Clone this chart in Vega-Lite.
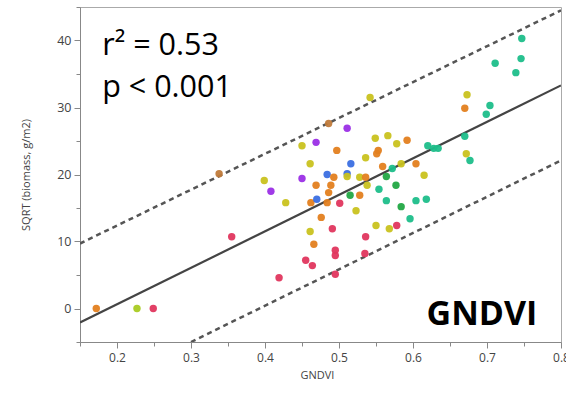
{
  "$schema": "https://vega.github.io/schema/vega-lite/v6.json",
  "width": 481,
  "height": 335,
  "autosize": {"type": "none"},
  "padding": {"left": 80, "top": 7, "right": 5, "bottom": 51},
  "background": "white",
  "config": {
    "view": {"stroke": "#aaaaaa", "strokeWidth": 1},
    "axis": {
      "grid": false,
      "domainColor": "#888888",
      "tickColor": "#888888",
      "labelColor": "#444444",
      "labelFont": "Open Sans",
      "labelFontSize": 12,
      "titleFont": "Open Sans",
      "titleFontWeight": "normal",
      "titleColor": "#444444",
      "titleFontSize": 11
    }
  },
  "datasets": {
    "pts": [
      {"gndvi": 0.172, "sqrt_biomass": 0.0, "group": "A"},
      {"gndvi": 0.227, "sqrt_biomass": 0.0, "group": "H"},
      {"gndvi": 0.249, "sqrt_biomass": 0.0, "group": "C"},
      {"gndvi": 0.338, "sqrt_biomass": 20.1, "group": "I"},
      {"gndvi": 0.355, "sqrt_biomass": 10.7, "group": "C"},
      {"gndvi": 0.399, "sqrt_biomass": 19.1, "group": "B"},
      {"gndvi": 0.408, "sqrt_biomass": 17.5, "group": "D"},
      {"gndvi": 0.419, "sqrt_biomass": 4.6, "group": "C"},
      {"gndvi": 0.428, "sqrt_biomass": 15.8, "group": "B"},
      {"gndvi": 0.45, "sqrt_biomass": 24.3, "group": "B"},
      {"gndvi": 0.469, "sqrt_biomass": 24.8, "group": "D"},
      {"gndvi": 0.486, "sqrt_biomass": 27.6, "group": "I"},
      {"gndvi": 0.511, "sqrt_biomass": 26.9, "group": "D"},
      {"gndvi": 0.542, "sqrt_biomass": 31.5, "group": "B"},
      {"gndvi": 0.497, "sqrt_biomass": 23.6, "group": "A"},
      {"gndvi": 0.549, "sqrt_biomass": 25.4, "group": "B"},
      {"gndvi": 0.566, "sqrt_biomass": 25.8, "group": "B"},
      {"gndvi": 0.578, "sqrt_biomass": 24.6, "group": "B"},
      {"gndvi": 0.592, "sqrt_biomass": 25.1, "group": "A"},
      {"gndvi": 0.553, "sqrt_biomass": 23.6, "group": "A"},
      {"gndvi": 0.551, "sqrt_biomass": 23.1, "group": "A"},
      {"gndvi": 0.536, "sqrt_biomass": 22.5, "group": "B"},
      {"gndvi": 0.461, "sqrt_biomass": 21.6, "group": "B"},
      {"gndvi": 0.516, "sqrt_biomass": 21.6, "group": "E"},
      {"gndvi": 0.484, "sqrt_biomass": 20.0, "group": "E"},
      {"gndvi": 0.511, "sqrt_biomass": 20.1, "group": "E"},
      {"gndvi": 0.511, "sqrt_biomass": 19.7, "group": "B"},
      {"gndvi": 0.559, "sqrt_biomass": 21.2, "group": "A"},
      {"gndvi": 0.572, "sqrt_biomass": 20.9, "group": "G"},
      {"gndvi": 0.584, "sqrt_biomass": 21.6, "group": "B"},
      {"gndvi": 0.604, "sqrt_biomass": 21.6, "group": "A"},
      {"gndvi": 0.45, "sqrt_biomass": 19.4, "group": "D"},
      {"gndvi": 0.493, "sqrt_biomass": 19.6, "group": "A"},
      {"gndvi": 0.528, "sqrt_biomass": 19.6, "group": "B"},
      {"gndvi": 0.564, "sqrt_biomass": 19.7, "group": "F"},
      {"gndvi": 0.469, "sqrt_biomass": 18.4, "group": "A"},
      {"gndvi": 0.489, "sqrt_biomass": 18.4, "group": "A"},
      {"gndvi": 0.486, "sqrt_biomass": 17.3, "group": "A"},
      {"gndvi": 0.484, "sqrt_biomass": 15.8, "group": "A"},
      {"gndvi": 0.462, "sqrt_biomass": 15.8, "group": "A"},
      {"gndvi": 0.47, "sqrt_biomass": 16.3, "group": "E"},
      {"gndvi": 0.536, "sqrt_biomass": 19.6, "group": "A"},
      {"gndvi": 0.538, "sqrt_biomass": 18.4, "group": "B"},
      {"gndvi": 0.515, "sqrt_biomass": 16.9, "group": "F"},
      {"gndvi": 0.528, "sqrt_biomass": 16.9, "group": "A"},
      {"gndvi": 0.501, "sqrt_biomass": 15.7, "group": "C"},
      {"gndvi": 0.554, "sqrt_biomass": 17.8, "group": "G"},
      {"gndvi": 0.577, "sqrt_biomass": 18.4, "group": "F"},
      {"gndvi": 0.564, "sqrt_biomass": 16.1, "group": "G"},
      {"gndvi": 0.584, "sqrt_biomass": 15.2, "group": "F"},
      {"gndvi": 0.604, "sqrt_biomass": 16.1, "group": "G"},
      {"gndvi": 0.618, "sqrt_biomass": 16.3, "group": "G"},
      {"gndvi": 0.523, "sqrt_biomass": 14.6, "group": "B"},
      {"gndvi": 0.476, "sqrt_biomass": 13.6, "group": "A"},
      {"gndvi": 0.596, "sqrt_biomass": 13.4, "group": "G"},
      {"gndvi": 0.491, "sqrt_biomass": 11.9, "group": "C"},
      {"gndvi": 0.55, "sqrt_biomass": 12.4, "group": "B"},
      {"gndvi": 0.568, "sqrt_biomass": 11.9, "group": "B"},
      {"gndvi": 0.578, "sqrt_biomass": 12.4, "group": "C"},
      {"gndvi": 0.461, "sqrt_biomass": 11.5, "group": "B"},
      {"gndvi": 0.536, "sqrt_biomass": 10.7, "group": "C"},
      {"gndvi": 0.466, "sqrt_biomass": 9.6, "group": "A"},
      {"gndvi": 0.495, "sqrt_biomass": 8.7, "group": "C"},
      {"gndvi": 0.495, "sqrt_biomass": 7.9, "group": "C"},
      {"gndvi": 0.535, "sqrt_biomass": 8.2, "group": "C"},
      {"gndvi": 0.455, "sqrt_biomass": 7.2, "group": "C"},
      {"gndvi": 0.464, "sqrt_biomass": 6.4, "group": "C"},
      {"gndvi": 0.495, "sqrt_biomass": 5.1, "group": "C"},
      {"gndvi": 0.62, "sqrt_biomass": 24.3, "group": "G"},
      {"gndvi": 0.628, "sqrt_biomass": 23.9, "group": "G"},
      {"gndvi": 0.634, "sqrt_biomass": 23.9, "group": "G"},
      {"gndvi": 0.67, "sqrt_biomass": 25.7, "group": "G"},
      {"gndvi": 0.672, "sqrt_biomass": 23.1, "group": "B"},
      {"gndvi": 0.677, "sqrt_biomass": 22.1, "group": "G"},
      {"gndvi": 0.67, "sqrt_biomass": 29.9, "group": "A"},
      {"gndvi": 0.673, "sqrt_biomass": 31.9, "group": "B"},
      {"gndvi": 0.699, "sqrt_biomass": 29.0, "group": "G"},
      {"gndvi": 0.704, "sqrt_biomass": 30.3, "group": "G"},
      {"gndvi": 0.711, "sqrt_biomass": 36.6, "group": "G"},
      {"gndvi": 0.739, "sqrt_biomass": 35.2, "group": "G"},
      {"gndvi": 0.746, "sqrt_biomass": 37.3, "group": "G"},
      {"gndvi": 0.747, "sqrt_biomass": 40.3, "group": "G"},
      {"gndvi": 0.615, "sqrt_biomass": 19.9, "group": "B"}
    ],
    "fits": [
      {"gndvi": 0.15, "sqrt_biomass": -2.1, "series": "fit"},
      {"gndvi": 0.8, "sqrt_biomass": 33.3, "series": "fit"},
      {"gndvi": 0.15, "sqrt_biomass": 9.7, "series": "upper"},
      {"gndvi": 0.8, "sqrt_biomass": 44.5, "series": "upper"},
      {"gndvi": 0.3, "sqrt_biomass": -5.0, "series": "lower"},
      {"gndvi": 0.8, "sqrt_biomass": 22.1, "series": "lower"}
    ],
    "notes": [
      {"gndvi": 0.18, "sqrt_biomass": 37.9, "label": "r² = 0.53"},
      {"gndvi": 0.18, "sqrt_biomass": 31.5, "label": "p < 0.001"}
    ],
    "tag": [
      {"gndvi": 0.768, "sqrt_biomass": -2.5, "label": "GNDVI"}
    ]
  },
  "encoding": {
    "x": {
      "field": "gndvi", "type": "quantitative",
      "scale": {"domain": [0.15, 0.8], "nice": false, "zero": false},
      "axis": {
        "title": "GNDVI",
        "titleX": 237,
        "titleAnchor": "middle",
        "values": [0.15, 0.2, 0.25, 0.3, 0.35, 0.4, 0.45, 0.5, 0.55, 0.6, 0.65, 0.7, 0.75, 0.8],
        "labelExpr": "abs(datum.value*10 - round(datum.value*10)) < 0.01 ? format(datum.value, '.1f') : ''",
        "tickSize": {"condition": {"test": "abs(datum.value*10 - round(datum.value*10)) < 0.01", "value": 6}, "value": 4},
        "labelPadding": 4,
        "titlePadding": 6,
        "labelFlush": false
      }
    },
    "y": {
      "field": "sqrt_biomass", "type": "quantitative",
      "scale": {"domain": [-5, 45], "nice": false, "zero": false},
      "axis": {
        "title": "SQRT (biomass, g/m2)",
        "values": [-5, 0, 5, 10, 15, 20, 25, 30, 35, 40, 45],
        "labelExpr": "datum.value % 10 === 0 ? datum.label : ''",
        "tickSize": {"condition": {"test": "datum.value % 10 === 0", "value": 6}, "value": 4},
        "labelPadding": 3,
        "labelFontSize": 12.5,
        "titlePadding": 25
      }
    }
  },
  "layer": [
    {
      "data": {"name": "fits"},
      "transform": [{"filter": "datum.series === 'fit'"}],
      "mark": {"type": "line", "color": "#444444", "strokeWidth": 2.2, "clip": true},
      "encoding": {}
    },
    {
      "data": {"name": "fits"},
      "transform": [{"filter": "datum.series !== 'fit'"}],
      "mark": {"type": "line", "color": "#555555", "strokeWidth": 2.5, "strokeDash": [5, 4], "clip": true},
      "encoding": {"detail": {"field": "series"}}
    },
    {
      "data": {"name": "pts"},
      "mark": {"type": "circle", "size": 55, "opacity": 0.95},
      "encoding": {
        "color": {
          "field": "group", "type": "nominal", "legend": null,
          "scale": {
            "domain": ["A", "B", "C", "D", "E", "F", "G", "H", "I"],
            "range": ["#E3801F", "#C9C21F", "#E0365E", "#9B2FE6", "#3B6FE2", "#22A844", "#1EBE8A", "#A9CB22", "#C07A3A"]
          }
        }
      }
    },
    {
      "data": {"name": "notes"},
      "mark": {"type": "text", "align": "left", "baseline": "alphabetic", "font": "Open Sans", "fontSize": 30.5, "color": "#000000"},
      "encoding": {"text": {"field": "label"}}
    },
    {
      "data": {"name": "tag"},
      "mark": {"type": "text", "align": "right", "baseline": "alphabetic", "font": "Open Sans", "fontSize": 34, "fontWeight": "bold", "color": "#000000"},
      "encoding": {"text": {"field": "label"}}
    }
  ]
}
